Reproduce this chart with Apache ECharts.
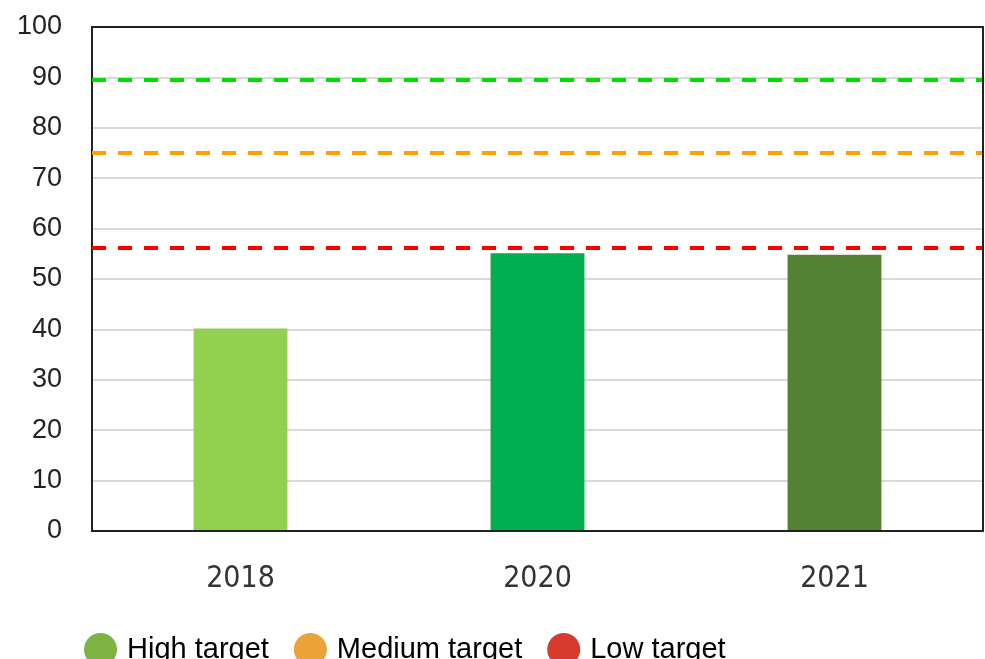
<!DOCTYPE html>
<html>
<head>
<meta charset="utf-8">
<script src="https://cdn.jsdelivr.net/npm/echarts@6/dist/echarts.min.js"></script>
<style>
  html, body { margin: 0; padding: 0; background: #fff; }
  #chart { width: 985px; height: 659px; }
</style>
</head>
<body>
<div id="chart"></div>
<script>
// Years shown on the category axis
const years = ['2018', '2020', '2021'];
// Measured value per year
const values = [40.2, 55.1, 54.8];
const barColors = ['#92d050', '#00b050', '#548235'];

// Target levels drawn as dashed reference lines
const targetNames = ['High target', 'Medium target', 'Low target'];
const targetValues = [89.5, 75.1, 56.2];
const targetLineColors = ['#00dd00', '#ffa000', '#ff0000'];
const targetLegendColors = ['#7cb342', '#eba236', '#d63b2e'];

const chart = echarts.init(document.getElementById('chart'), null, { renderer: 'canvas' });

const frameLine = { show: true, onZero: false, lineStyle: { color: '#222', width: 2 } };

const series = [{
  name: 'Value',
  type: 'bar',
  barWidth: '31.6%',
  data: values.map((v, i) => ({ value: v, itemStyle: { color: barColors[i] } })),
  z: 2
}];

targetNames.forEach((name, i) => {
  series.push({
    name: name,
    type: 'line',
    data: [],
    color: targetLegendColors[i],
    markLine: {
      silent: true,
      symbol: 'none',
      label: { show: false },
      lineStyle: { color: targetLineColors[i], type: [14, 12], width: 4 },
      data: [{ yAxis: targetValues[i] }]
    },
    z: 3
  });
});

chart.setOption({
  animation: false,
  backgroundColor: '#fff',
  grid: { left: 92, right: 2, top: 27, bottom: 128 },
  xAxis: [{
    type: 'category',
    data: years,
    z: 5,
    axisTick: { show: false },
    axisLine: frameLine,
    axisLabel: {
      margin: 33,
      fontSize: 30,
      fontFamily: 'Liberation Sans Narrow, DejaVu Sans Condensed, sans-serif',
      color: '#333'
    }
  }, {
    // top edge of the plot frame
    type: 'category',
    position: 'top',
    data: years,
    z: 5,
    axisTick: { show: false },
    axisLabel: { show: false },
    axisLine: frameLine
  }],
  yAxis: [{
    type: 'value',
    min: 0, max: 100, interval: 10,
    axisLine: frameLine,
    axisTick: { show: false },
    splitLine: { show: true, showMaxLine: false, lineStyle: { color: '#d9d9d9', width: 2 } },
    axisLabel: {
      margin: 30,
      fontSize: 27,
      fontFamily: 'Liberation Sans, Arial, sans-serif',
      color: '#222'
    }
  }, {
    // right edge of the plot frame
    type: 'value',
    position: 'right',
    min: 0, max: 100, interval: 10,
    z: 5,
    axisLine: frameLine,
    axisTick: { show: false },
    axisLabel: { show: false },
    splitLine: { show: false }
  }],
  legend: {
    data: targetNames.map((n, i) => ({ name: n, icon: 'circle', itemStyle: { color: targetLegendColors[i] } })),
    left: 79,
    top: 628,
    itemWidth: 33,
    itemHeight: 33,
    itemGap: 25,
    textStyle: { fontSize: 29, color: '#000', fontFamily: 'Liberation Sans, Arial, sans-serif', padding: [0, 0, 0, 5] }
  },
  series: series
});
</script>
</body>
</html>
